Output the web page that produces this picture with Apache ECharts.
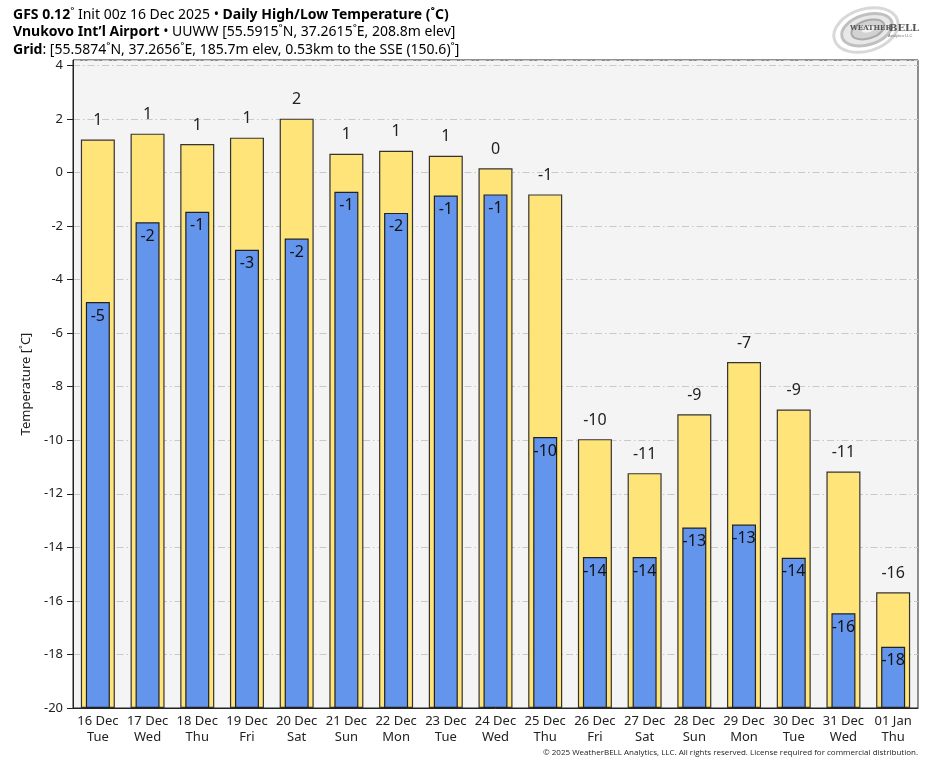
<!DOCTYPE html>
<html>
<head>
<meta charset="utf-8">
<script src="https://cdn.jsdelivr.net/npm/echarts@6/dist/echarts.min.js"></script>
<style>
html,body{margin:0;padding:0;background:#fff;}
#chart{width:935px;height:768px;}
</style>
</head>
<body>
<div id="chart"></div>
<script>
// ---- data ----
const dates = ['16 Dec','17 Dec','18 Dec','19 Dec','20 Dec','21 Dec','22 Dec','23 Dec','24 Dec','25 Dec','26 Dec','27 Dec','28 Dec','29 Dec','30 Dec','31 Dec','01 Jan'];
const weekdays = ['Tue','Wed','Thu','Fri','Sat','Sun','Mon','Tue','Wed','Thu','Fri','Sat','Sun','Mon','Tue','Wed','Thu'];
const highs = [1.23, 1.45, 1.06, 1.30, 2.01, 0.70, 0.81, 0.62, 0.16, -0.82, -9.96, -11.23, -9.03, -7.08, -8.85, -11.17, -15.68];
const lows  = [-4.84, -1.86, -1.47, -2.89, -2.47, -0.72, -1.51, -0.86, -0.82, -9.88, -14.36, -14.36, -13.26, -13.15, -14.39, -16.46, -17.71];
const yTicks = [-20,-18,-16,-14,-12,-10,-8,-6,-4,-2,0,2,4];

const AXIS_MIN = -20, AXIS_MAX = 4.2;
const catLabels = dates.map((d,i)=> d + '\n' + weekdays[i]);
const FONT = '"Noto Sans", "Open Sans", sans-serif';
const fmtRound = v => { const r = Math.round(v); return String(r === 0 ? 0 : r); };

const chart = echarts.init(document.getElementById('chart'), null, {renderer:'canvas'});

const option = {
  backgroundColor: '#ffffff',
  animation: false,
  title: {
    left: 8, top: 1,
    text: '{b|GFS 0.12}{n|˚ Init 00z 16 Dec 2025 • }{b|Daily High/Low Temperature (˚C)}\n' +
          '{b|Vnukovo Int’l Airport}{n| • UUWW [55.5915˚N, 37.2615˚E, 208.8m elev]}\n' +
          '{b|Grid}{n|: [55.5874˚N, 37.2656˚E, 185.7m elev, 0.53km to the SSE (150.6)˚]}',
    textStyle: {
      fontFamily: FONT, fontSize: 14, color: '#000', lineHeight: 17.5,
      rich: {
        b: {fontWeight: 'bold', fontSize: 14, fontFamily: FONT, color: '#000', lineHeight: 17.5},
        n: {fontWeight: 'normal', fontSize: 14, fontFamily: FONT, color: '#000', lineHeight: 17.5}
      }
    }
  },
  grid: {
    left: 73, right: 17, top: 60, bottom: 60,
    show: true, backgroundColor: '#f4f4f4', borderColor: '#222', borderWidth: 1,
    containLabel: false
  },
  xAxis: [
    {
      type: 'category', data: catLabels, position: 'bottom',
      axisLine: {show: true, onZero: false, lineStyle: {color: '#222'}},
      axisTick: {show: false},
      axisLabel: {fontFamily: FONT, fontSize: 13, color: '#222', margin: 5, lineHeight: 16, interval: 0},
      splitLine: {show: false}
    },
    {
      type: 'category', data: catLabels, position: 'bottom', show: false,
      axisLine: {onZero: false}
    }
  ],
  yAxis: {
    type: 'value', min: AXIS_MIN, max: AXIS_MAX, interval: 2,
    name: 'Temperature [˚C]', nameLocation: 'middle', nameGap: 40,
    nameTextStyle: {fontFamily: FONT, fontSize: 13, color: '#222'},
    axisLine: {show: true, lineStyle: {color: '#222'}},
    axisTick: {show: true, length: 6, inside: false, lineStyle: {color: '#222'}},
    axisLabel: {
      fontFamily: FONT, fontSize: 13, color: '#222', margin: 10, showMaxLabel: false,
      formatter: v => (yTicks.indexOf(v) >= 0 ? String(v) : '')
    },
    splitLine: {show: true, lineStyle: {color: '#c9c9c9', width: 1, type: [7, 3, 1.5, 3]}}
  },
  series: [
    {
      name: 'hiBase', type: 'bar', xAxisIndex: 0, stack: 'hi', stackStrategy: 'all',
      data: highs.map(() => AXIS_MIN), barWidth: 34, silent: true,
      itemStyle: {color: 'rgba(0,0,0,0)', borderWidth: 0}, z: 2
    },
    {
      name: 'High', type: 'bar', xAxisIndex: 0, stack: 'hi', stackStrategy: 'all',
      data: highs.map(v => v - AXIS_MIN), barWidth: 34,
      itemStyle: {color: '#ffe47a', borderColor: '#333', borderWidth: 1.2},
      label: {
        show: true, position: 'top', distance: 11,
        fontFamily: FONT, fontSize: 16, color: '#222',
        formatter: p => fmtRound(highs[p.dataIndex])
      },
      z: 3
    },
    {
      name: 'loBase', type: 'bar', xAxisIndex: 1, stack: 'lo', stackStrategy: 'all',
      data: lows.map(() => AXIS_MIN), barWidth: 24, silent: true,
      itemStyle: {color: 'rgba(0,0,0,0)', borderWidth: 0}, z: 4
    },
    {
      name: 'Low', type: 'bar', xAxisIndex: 1, stack: 'lo', stackStrategy: 'all',
      data: lows.map(v => v - AXIS_MIN), barWidth: 24,
      itemStyle: {color: '#6495ed', borderColor: '#222', borderWidth: 1.2},
      label: {
        show: true, position: 'insideTop', distance: 6,
        fontFamily: FONT, fontSize: 16, color: '#111',
        formatter: p => fmtRound(lows[p.dataIndex])
      },
      z: 5
    }
  ],
  graphic: [
    // footer
    {
      type: 'text', right: 17, top: 749,
      style: {text: '© 2025 WeatherBELL Analytics, LLC. All rights reserved. License required for commercial distribution.',
              font: '8px "Open Sans", sans-serif', fill: '#222'}
    },
    // logo swirl
    {
      type: 'group', x: 866, y: 30, rotation: 0.3,
      children: [
        {type: 'ellipse', shape: {cx: 0, cy: 0, rx: 33, ry: 21}, style: {fill: null, stroke: '#d8d8d8', lineWidth: 3}},
        {type: 'ellipse', shape: {cx: 1, cy: 0, rx: 26, ry: 15}, style: {fill: '#e8e8e8', stroke: '#c0c0c0', lineWidth: 3}},
        {type: 'ellipse', shape: {cx: 2, cy: 0, rx: 17, ry: 9}, style: {fill: '#d2d2d2', stroke: '#aaaaaa', lineWidth: 2}},
        {type: 'ellipse', shape: {cx: 3, cy: 0, rx: 7, ry: 3}, style: {fill: '#f2f2f2', stroke: null}}
      ]
    },
    {type: 'text', x: 850, y: 25, style: {text: 'WEATHER', font: 'bold 7px "DejaVu Serif", serif', fill: '#555'}},
    {type: 'text', x: 889, y: 23, style: {text: 'BELL', font: 'bold 10px "DejaVu Serif", serif', fill: '#555'}},
    {type: 'text', x: 888, y: 34, style: {text: 'Analytics LLC', font: '4px sans-serif', fill: '#777'}}
  ]
};
chart.setOption(option);
</script>
</body>
</html>
